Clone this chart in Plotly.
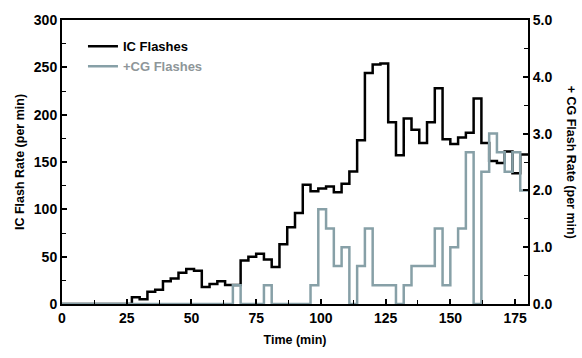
import plotly.graph_objects as go

# 3-minute bins, bin start times 0..177 min
time_min = [i * 3 for i in range(60)]

ic_rate = [0, 0, 0, 0, 0, 0, 0, 0, 0, 7,        # 0-27
           5, 13, 15, 24, 27, 33, 37, 35, 18, 21,  # 30-57
           24, 20, 20, 46, 50, 53, 47, 39, 63, 81,  # 60-87
           96, 126, 119, 122, 124, 118, 127, 140, 173, 244,  # 90-117
           253, 254, 192, 157, 196, 184, 170, 192, 228, 174,  # 120-147
           169, 176, 181, 217, 170, 151, 149, 161, 138, 158]  # 150-177

cg_rate = [0, 0, 0, 0, 0, 0, 0, 0, 0, 0,
           0, 0, 0, 0, 0, 0, 0, 0, 0, 0,
           0, 0, 0.33, 0, 0, 0, 0.33, 0, 0, 0,
           0, 0, 0.33, 1.67, 1.33, 0.67, 1.0, 0, 0.67, 1.33,
           0.33, 0.33, 0.33, 0, 0.33, 0.67, 0.67, 0.67, 1.33, 0.33,
           1.0, 1.33, 2.67, 0, 2.33, 3.0, 2.67, 2.33, 2.67, 2.0]

x_end = 180
x_ticks = [0, 25, 50, 75, 100, 125, 150, 175]
y1_ticks = [0, 50, 100, 150, 200, 250, 300]
y2_ticks = [0, 1, 2, 3, 4, 5]
y2_labels = ["0.0", "1.0", "2.0", "3.0", "4.0", "5.0"]

BLACK = "#000000"
GRAY = "#87a0a7"
GRAY_TEXT = "#8e9699"
FONT = "Liberation Sans"

xs = time_min + [x_end]

fig = go.Figure()
fig.add_trace(go.Scatter(
    x=xs, y=ic_rate + [ic_rate[-1]], mode="lines", line_shape="hv",
    line=dict(color=BLACK, width=2.5), name="<b>IC Flashes</b>", yaxis="y"))
fig.add_trace(go.Scatter(
    x=xs, y=cg_rate + [cg_rate[-1]], mode="lines", line_shape="hv",
    line=dict(color=GRAY, width=2.5),
    name="<b><span style='color:%s'>+CG Flashes</span></b>" % GRAY_TEXT, yaxis="y2"))

tickfont = dict(family=FONT, size=14, color="black")
titlefont = dict(family=FONT, size=12.5, color="black")

fig.update_layout(
    width=582, height=358,
    margin=dict(l=62, r=54, t=15, b=54),
    paper_bgcolor="white", plot_bgcolor="white",
    font=dict(family=FONT, color="black"),
    showlegend=True,
    legend=dict(x=0.045, y=0.96, xanchor="left", yanchor="top",
                bgcolor="rgba(0,0,0,0)", font=dict(family=FONT, size=13, color="black"),
                tracegroupgap=0, itemwidth=30),
    xaxis=dict(range=[0, x_end], tickvals=x_ticks, ticktext=["<b>%d</b>" % v for v in x_ticks],
               ticks="inside", ticklen=5, tickwidth=1.5, tickcolor="black",
               minor=dict(dtick=12.5, tick0=0, ticks="inside", ticklen=4, tickwidth=1.2, tickcolor="black"),
               showline=True, linecolor="black", linewidth=2, mirror=True,
               showgrid=False, zeroline=False, tickfont=tickfont,
               title=dict(text="<b>Time (min)</b>", font=titlefont, standoff=10)),
    yaxis=dict(range=[0, 300], tickvals=y1_ticks, ticktext=["<b>%d</b>" % v for v in y1_ticks],
               ticks="inside", ticklen=5, tickwidth=1.5, tickcolor="black",
               minor=dict(dtick=25, tick0=0, ticks="inside", ticklen=4, tickwidth=1.2, tickcolor="black"),
               showline=True, linecolor="black", linewidth=2,
               showgrid=False, zeroline=False, tickfont=tickfont,
               title=dict(text="<b>IC Flash Rate (per min)</b>", font=titlefont, standoff=6)),
    yaxis2=dict(range=[0, 5], overlaying="y", side="right",
                tickvals=y2_ticks, ticktext=["<b>%s</b>" % t for t in y2_labels],
                ticks="inside", ticklen=5, tickwidth=1.5, tickcolor="black",
                minor=dict(dtick=0.5, tick0=0, ticks="inside", ticklen=4, tickwidth=1.2, tickcolor="black"),
                showline=True, linecolor="black", linewidth=2,
                showgrid=False, zeroline=False, tickfont=tickfont),
)

fig.add_annotation(text="<b>+ CG Flash Rate (per min)</b>", textangle=90,
                   xref="paper", yref="paper", x=1.093, y=0.5, xanchor="center", yanchor="middle",
                   showarrow=False, font=titlefont)

fig.write_html("out.html")
